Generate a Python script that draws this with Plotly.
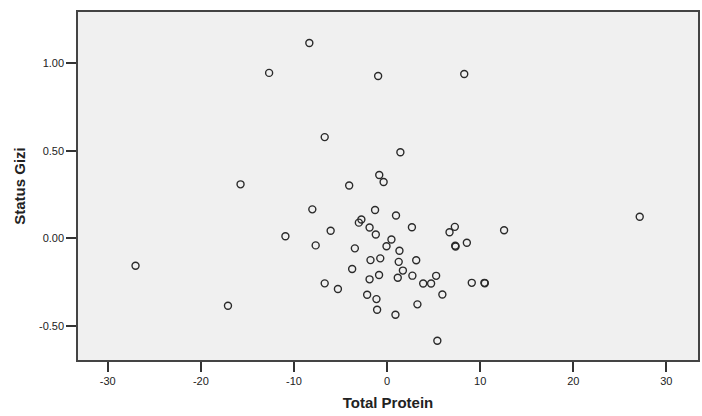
import plotly.graph_objects as go

# Data (Total Protein vs Status Gizi)
total_protein = [
    -8.35, -12.67, -0.96, 8.29, -6.70, 1.43, -15.74, -4.07, -0.84, -0.37,
    27.14, -8.03, -1.29, 0.96, -2.76, -3.03, -1.88, 2.67, -6.06, -1.21,
    -10.92, 7.28, 6.71, 12.57, -7.67, 0.47, -0.06, -3.46, 1.33, 7.32,
    7.36, 8.57, -27.02, -1.78, -0.73, 1.25, 3.13, -3.75, 1.70, -1.88,
    -0.86, 1.15, 2.72, 5.27, 3.88, 4.73, -6.70, -5.28, 9.10, 10.46,
    10.50, -17.09, -2.14, -1.14, 5.94, -1.07, 3.26, 0.90, 5.40,
]
status_gizi = [
    1.116, 0.945, 0.927, 0.939, 0.578, 0.491, 0.308, 0.301, 0.361, 0.321,
    0.123, 0.165, 0.161, 0.130, 0.107, 0.089, 0.061, 0.063, 0.043, 0.021,
    0.011, 0.065, 0.034, 0.046, -0.041, -0.007, -0.046, -0.058, -0.072, -0.043,
    -0.047, -0.026, -0.157, -0.125, -0.115, -0.135, -0.126, -0.176, -0.185, -0.235,
    -0.210, -0.226, -0.214, -0.215, -0.259, -0.259, -0.258, -0.290, -0.255, -0.255,
    -0.257, -0.386, -0.323, -0.348, -0.322, -0.409, -0.378, -0.437, -0.586,
]

x_tick_vals = [-30, -20, -10, 0, 10, 20, 30]
x_tick_text = ["-30", "-20", "-10", "0", "10", "20", "30"]
y_tick_vals = [-0.5, 0.0, 0.5, 1.0]
y_tick_text = ["-0.50", "0.00", "0.50", "1.00"]

fig = go.Figure()
fig.add_trace(go.Scatter(
    x=total_protein,
    y=status_gizi,
    mode="markers",
    marker=dict(symbol="circle-open", size=7, color="#2a2a2a",
                line=dict(width=1.4, color="#2a2a2a")),
    showlegend=False,
    hoverinfo="x+y",
))

axis_font = dict(family="Liberation Sans, Arial", size=11, color="#222")
title_font = dict(family="Liberation Sans, Arial", size=15, color="#222")

fig.update_layout(
    width=702, height=416,
    margin=dict(l=78, r=2, t=12, b=56),
    paper_bgcolor="white",
    plot_bgcolor="#f0f0f0",
    xaxis=dict(
        range=[-33.2, 33.4],
        tickvals=x_tick_vals, ticktext=x_tick_text,
        showgrid=False, zeroline=False,
        showline=True, mirror=True, linecolor="#444", linewidth=1.5,
        ticks="outside", ticklen=10, tickwidth=1.5, tickcolor="#333",
        tickfont=axis_font,
        title=dict(text="<b>Total Protein</b>", font=title_font, standoff=12),
    ),
    yaxis=dict(
        range=[-0.696, 1.293],
        tickvals=y_tick_vals, ticktext=y_tick_text,
        showgrid=False, zeroline=False,
        showline=True, mirror=True, linecolor="#444", linewidth=1.5,
        ticks="outside", ticklen=10, tickwidth=1.5, tickcolor="#333",
        tickfont=axis_font,
        title=dict(text="<b>Status Gizi</b>", font=title_font, standoff=10),
    ),
)

fig.write_html("out.html")
